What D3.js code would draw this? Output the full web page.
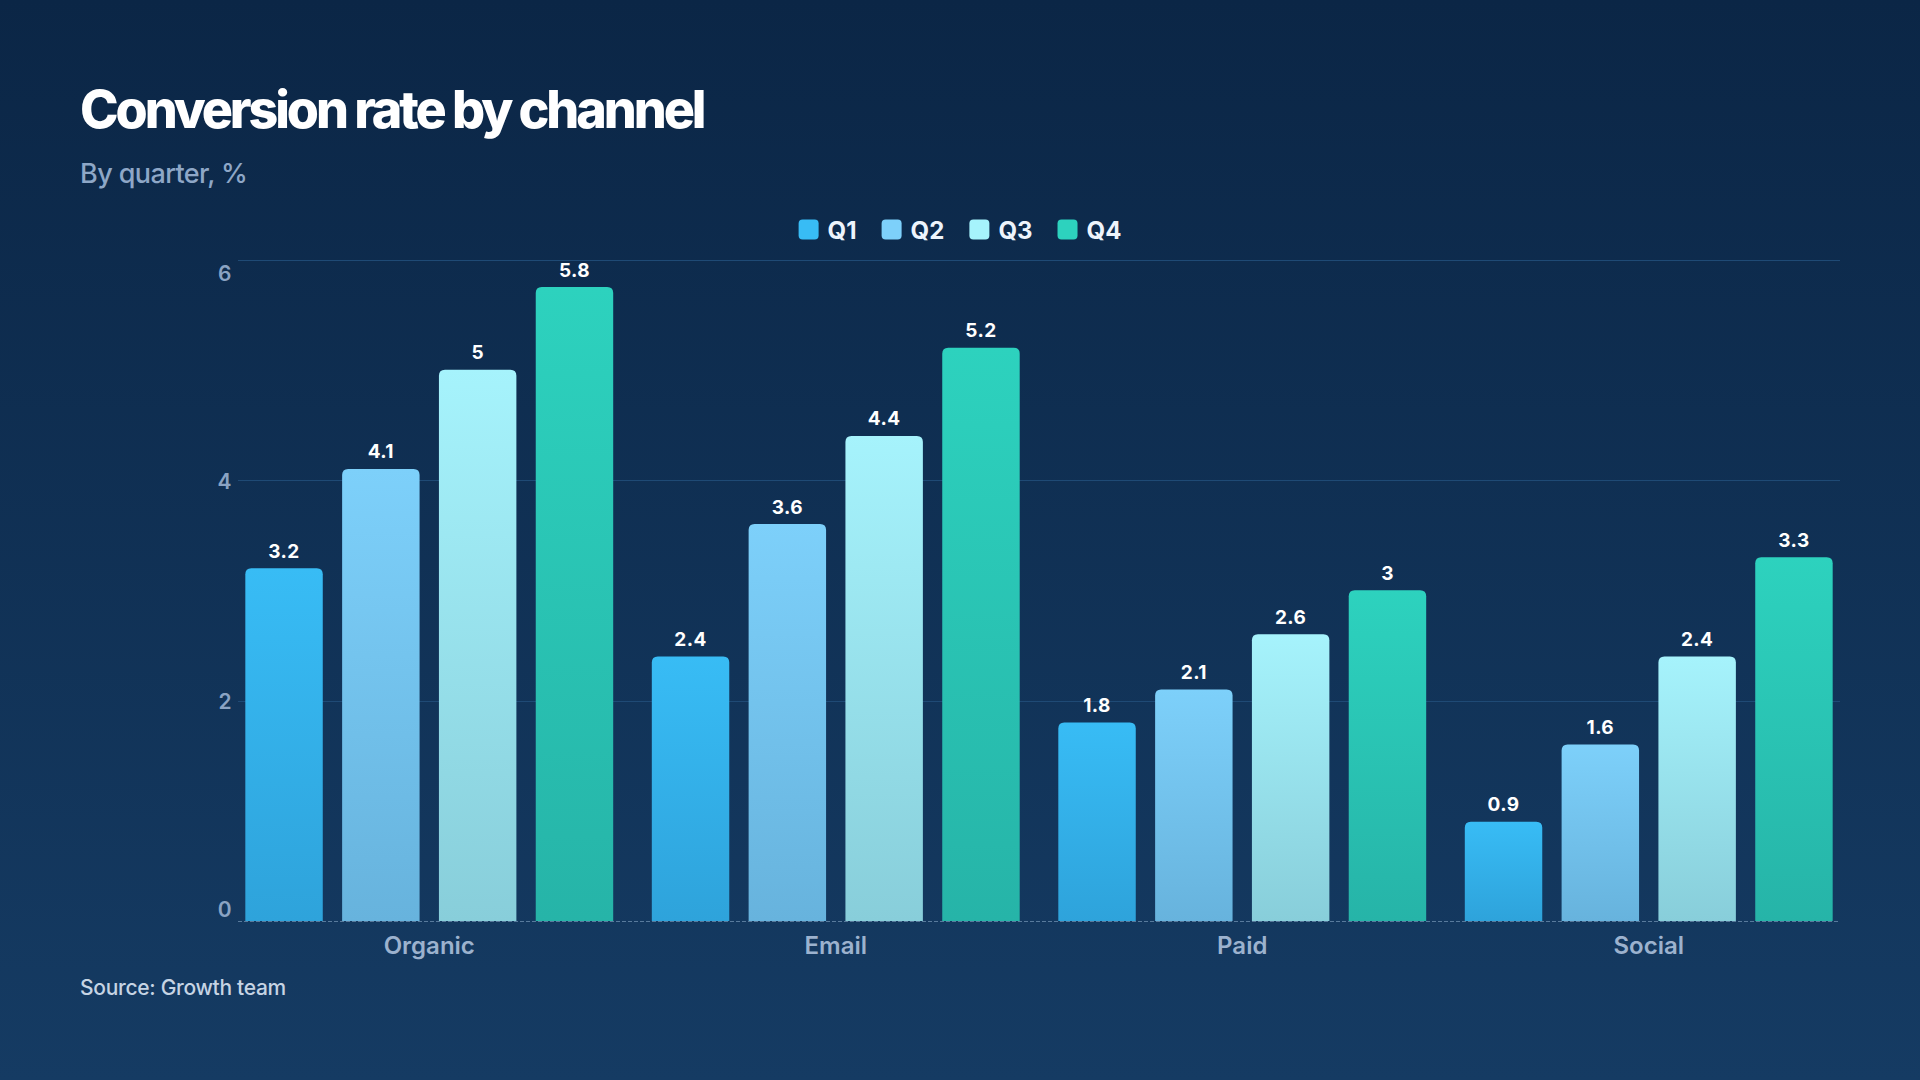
<!DOCTYPE html>
<html>
<head>
<meta charset="utf-8">
<script src="https://cdn.jsdelivr.net/npm/d3@7"></script>
<style>
  html, body { margin: 0; padding: 0; }
  body { width: 1920px; height: 1080px; overflow: hidden; background: #0f2f53; }
  svg { display: block; font-family: Inter, "Noto Sans", sans-serif; }
</style>
</head>
<body>
<div id="chart"></div>
<script>
var channels = ['Organic', 'Email', 'Paid', 'Social'];
var quarters = ['Q1', 'Q2', 'Q3', 'Q4'];
var q1 = [3.2, 2.4, 1.8, 0.9];
var q2 = [4.1, 3.6, 2.1, 1.6];
var q3 = [5.0, 4.4, 2.6, 2.4];
var q4 = [5.75, 5.2, 3.0, 3.3];
var yTicks = [0, 2, 4, 6];

var series = [q1, q2, q3, q4];
var colorsTop = ['#38bcf5', '#7dd0fa', '#a6f3fc', '#2dd2be'];
var colorsBottom = ['#2ea3db', '#67b3dd', '#88ceda', '#26b4a8'];
var fmt = d3.format('.2~r');

var W = 1920, H = 1080;
var svg = d3.select('#chart').append('svg')
    .attr('width', W)
    .attr('height', H);

var defs = svg.append('defs');
var bg = defs.append('linearGradient')
    .attr('id', 'bg')
    .attr('x1', 0).attr('y1', 0).attr('x2', 0).attr('y2', 1);
bg.append('stop').attr('offset', '0%').attr('stop-color', '#0b2646');
bg.append('stop').attr('offset', '100%').attr('stop-color', '#153b63');

quarters.forEach(function(q, i) {
    var g = defs.append('linearGradient')
	.attr('id', 'bar-' + i)
	.attr('x1', 0).attr('y1', 0).attr('x2', 0).attr('y2', 1);
    g.append('stop').attr('offset', '0%').attr('stop-color', colorsTop[i]);
    g.append('stop').attr('offset', '100%').attr('stop-color', colorsBottom[i]);
});

svg.append('rect')
    .attr('width', W)
    .attr('height', H)
    .attr('fill', 'url(#bg)');

// titles
svg.append('text')
    .attr('x', 80)
    .attr('y', 128)
    .attr('fill', '#ffffff')
    .attr('font-size', 52)
    .attr('font-weight', 800)
    .attr('letter-spacing', '-3.1px')
    .text('Conversion rate by channel');

svg.append('text')
    .attr('x', 80)
    .attr('y', 183)
    .attr('fill', '#8ea7c7')
    .attr('font-size', 27)
    .attr('font-weight', 500)
    .attr('letter-spacing', '-0.6px')
    .text('By quarter, %');

// scales
var x0 = d3.scaleBand()
    .domain(channels)
    .range([238, 1840])
    .paddingInner(0.095)
    .paddingOuter(0.018);

var x1 = d3.scaleBand()
    .domain(quarters)
    .range([0, x0.bandwidth()])
    .paddingInner(0.2);

var y = d3.scaleLinear()
    .domain([0, 6])
    .range([921, 259.5]);

// grid
var grid = svg.append('g');
grid.selectAll('line')
    .data(yTicks.filter(function(t) { return t > 0; }))
    .enter()
    .append('line')
    .attr('x1', 238)
    .attr('x2', 1840)
    .attr('y1', function(d) { return Math.round(y(d)) + 0.5; })
    .attr('y2', function(d) { return Math.round(y(d)) + 0.5; })
    .attr('stroke', '#1f4a75')
    .attr('stroke-width', 1);

// y labels: top one drops under its line, bottom one sits above it
var yMax = d3.max(yTicks), yMin = d3.min(yTicks);
svg.append('g').selectAll('text')
    .data(yTicks)
    .enter()
    .append('text')
    .attr('x', 231.5)
    .attr('y', function(d) {
	if (d === yMax) return y(d) + 13.5;
	if (d === yMin) return y(d) - 11.5;
	return y(d) + 1;
    })
    .attr('dominant-baseline', 'central')
    .attr('text-anchor', 'end')
    .attr('fill', '#8aa3c3')
    .attr('font-size', 21)
    .attr('font-weight', 600)
    .text(function(d) { return d; });

// bars
var barData = [];
channels.forEach(function(c, ci) {
    quarters.forEach(function(q, qi) {
	barData.push({ channel: c, quarter: q, qi: qi, value: series[qi][ci] });
    });
});

function barPath(d) {
    var bx = x0(d.channel) + x1(d.quarter);
    var bw = x1.bandwidth();
    var top = y(d.value), base = y(0);
    var r = 6;
    return 'M' + bx + ',' + base +
	'V' + (top + r) +
	'Q' + bx + ',' + top + ' ' + (bx + r) + ',' + top +
	'H' + (bx + bw - r) +
	'Q' + (bx + bw) + ',' + top + ' ' + (bx + bw) + ',' + (top + r) +
	'V' + base + 'Z';
}

var bars = svg.append('g');
bars.selectAll('path')
    .data(barData)
    .enter()
    .append('path')
    .attr('d', barPath)
    .attr('fill', function(d) { return 'url(#bar-' + d.qi + ')'; });

bars.selectAll('text')
    .data(barData)
    .enter()
    .append('text')
    .attr('x', function(d) { return x0(d.channel) + x1(d.quarter) + x1.bandwidth() / 2; })
    .attr('y', function(d) { return y(d.value) - 10.5; })
    .attr('text-anchor', 'middle')
    .attr('fill', '#ffffff')
    .attr('font-size', 19)
    .attr('font-weight', 700)
    .attr('letter-spacing', '0.4px')
    .text(function(d) { return fmt(d.value); });

// baseline
svg.append('line')
    .attr('x1', 238)
    .attr('x2', 1840)
    .attr('y1', Math.round(y(0)) + 0.5)
    .attr('y2', Math.round(y(0)) + 0.5)
    .attr('stroke', '#587a9c')
    .attr('stroke-width', 1.2)
    .attr('stroke-dasharray', '4,2');

// x labels
svg.append('g').selectAll('text')
    .data(channels)
    .enter()
    .append('text')
    .attr('x', function(d) { return x0(d) + x0.bandwidth() / 2; })
    .attr('y', 954)
    .attr('text-anchor', 'middle')
    .attr('fill', '#9cb2ce')
    .attr('font-size', 24)
    .attr('font-weight', 600)
    .text(function(d) { return d; });

// legend
var legendItems = quarters.map(function(q, i) { return { name: q, i: i }; });
var legend = svg.append('g');
var lx = 0;
var items = legend.selectAll('g')
    .data(legendItems)
    .enter()
    .append('g');
items.append('rect')
    .attr('width', 20)
    .attr('height', 20)
    .attr('rx', 4)
    .attr('y', 219.5)
    .attr('fill', function(d) { return colorsTop[d.i]; });
items.append('text')
    .attr('x', 29)
    .attr('y', 239)
    .attr('fill', '#edf4fc')
    .attr('font-size', 24)
    .attr('font-weight', 700)
    .text(function(d) { return d.name; });
items.each(function() {
    d3.select(this).attr('transform', 'translate(' + lx + ',0)');
    lx += this.getBBox().width + 25;
});
lx -= 25;
legend.attr('transform', 'translate(' + (960 - lx / 2) + ',0)');

// source
svg.append('text')
    .attr('x', 80)
    .attr('y', 995)
    .attr('fill', '#c6d4e4')
    .attr('font-size', 21)
    .attr('font-weight', 500)
    .attr('letter-spacing', '-0.3px')
    .text('Source: Growth team');
</script>
</body>
</html>
